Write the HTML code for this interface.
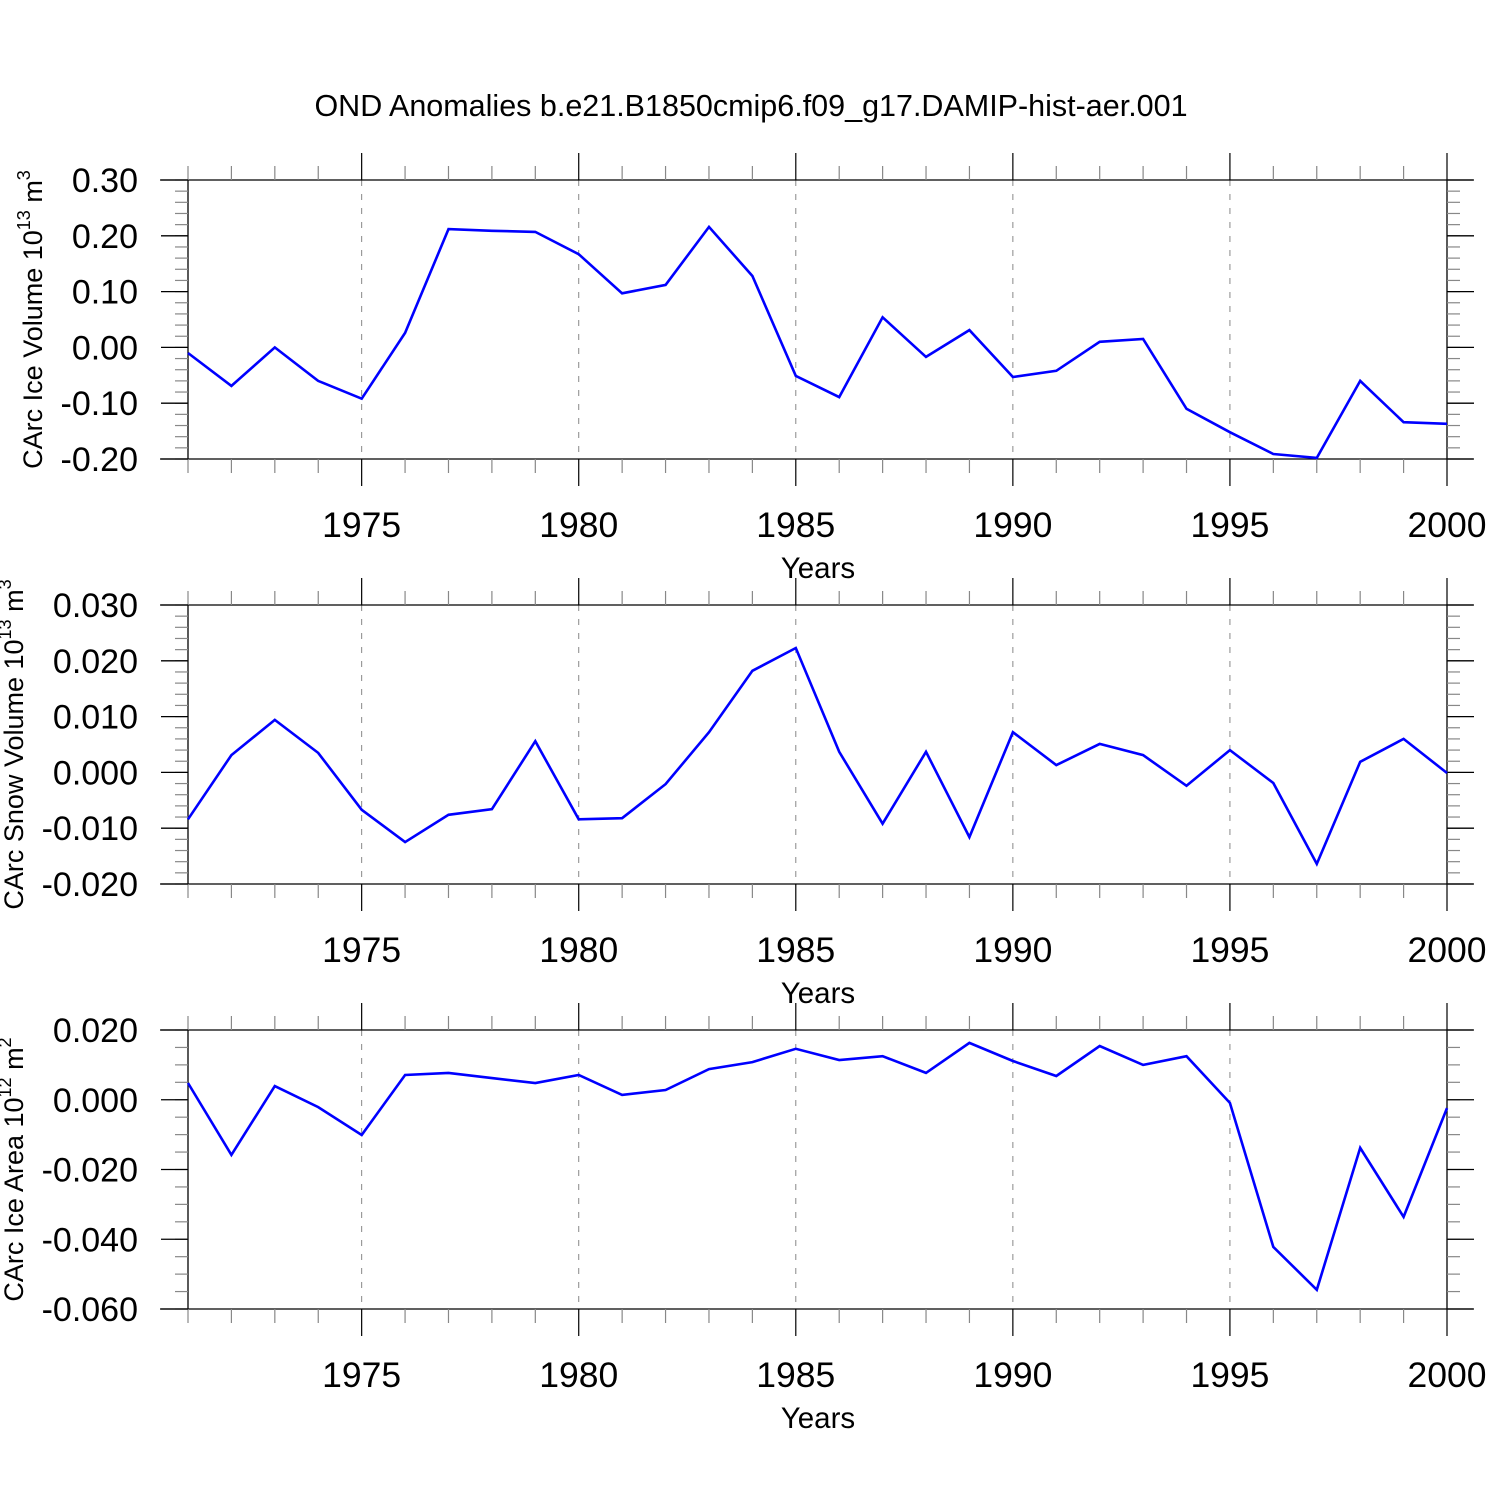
<!DOCTYPE html>
<html><head><meta charset="utf-8"><style>
html,body{margin:0;padding:0;background:#fff;}
svg{display:block;font-family:"Liberation Sans",Arial,sans-serif;}
</style></head><body>
<svg id="chart" width="1500" height="1500" viewBox="0 0 1500 1500" xmlns="http://www.w3.org/2000/svg">
<rect width="1500" height="1500" fill="#fff"/>
<text x="751" y="116" font-size="30.5" text-anchor="middle">OND Anomalies b.e21.B1850cmip6.f09_g17.DAMIP-hist-aer.001</text>
</svg>
<script>
const years = [1971,1972,1973,1974,1975,1976,1977,1978,1979,1980,1981,1982,1983,1984,1985,1986,1987,1988,1989,1990,1991,1992,1993,1994,1995,1996,1997,1998,1999,2000];
const iceVolume = [-0.010,-0.069,0.000,-0.060,-0.092,0.026,0.212,0.209,0.207,0.167,0.097,0.112,0.216,0.128,-0.051,-0.089,0.054,-0.017,0.031,-0.053,-0.042,0.010,0.015,-0.110,-0.152,-0.191,-0.198,-0.060,-0.134,-0.137];
const snowVolume = [-0.0084,0.0031,0.0094,0.0035,-0.0067,-0.0125,-0.0076,-0.0066,0.0056,-0.0084,-0.0082,-0.0021,0.0072,0.0182,0.0223,0.0037,-0.0092,0.0037,-0.0116,0.0072,0.0013,0.0051,0.0031,-0.0024,0.0040,-0.0019,-0.0164,0.0019,0.0060,-0.0001];
const iceArea = [0.0048,-0.0158,0.0039,-0.0021,-0.0101,0.0071,0.0077,0.0062,0.0048,0.0071,0.0014,0.0028,0.0088,0.0108,0.0146,0.0114,0.0125,0.0077,0.0163,0.0111,0.0068,0.0154,0.0100,0.0125,-0.0009,-0.0422,-0.0545,-0.0138,-0.0336,-0.0024];
const xTickLabels = [1975,1980,1985,1990,1995,2000];
const yTicks1 = [0.30,0.20,0.10,0.00,-0.10,-0.20];
const yTicks2 = [0.030,0.020,0.010,0.000,-0.010,-0.020];
const yTicks3 = [0.020,0.000,-0.020,-0.040,-0.060];

const NS='http://www.w3.org/2000/svg';
const svg=document.getElementById('chart');
function el(tag,attrs,parent){const e=document.createElementNS(NS,tag);for(const k in attrs)e.setAttribute(k,attrs[k]);(parent||svg).appendChild(e);return e;}
const X0=188,X1=1447;
function xs(y){return X0+(y-1971)*(X1-X0)/29;}

function panel(id,top,ymax,ymin,ticks,dec,minorStep,data,titleMain,exp,unit,titleX){
  const bot=top+279;
  const g=el('g',{});
  
  
  const ys=v=>top+(ymax-v)*(bot-top)/(ymax-ymin);
  for(const yr of [1975,1980,1985,1990,1995]){
    const l=el('line',{x1:xs(yr),x2:xs(yr),y1:top,y2:bot,stroke:'#888','stroke-width':1,'stroke-dasharray':'6,8'},g);
    
    
  }
  el('line',{x1:160,x2:1473,y1:top,y2:top,stroke:'#000','stroke-width':1.3},g);
  el('line',{x1:160,x2:1473,y1:bot,y2:bot,stroke:'#000','stroke-width':1.3},g);
  el('line',{x1:X0,x2:X0,y1:top,y2:bot,stroke:'#000','stroke-width':1.3},g);
  el('line',{x1:X1,x2:X1,y1:top,y2:bot,stroke:'#000','stroke-width':1.3},g);
  for(let yr=1971;yr<=2000;yr++){
    const major=yr%5===0, x=xs(yr), L=major?27:14;
    const c=major?'#000':'#888';
    el('line',{x1:x,x2:x,y1:top,y2:top-L,stroke:c,'stroke-width':1.2},g);
    el('line',{x1:x,x2:x,y1:bot,y2:bot+L,stroke:c,'stroke-width':1.2},g);
  }
  xTickLabels.forEach(yr=>{
    const t=el('text',{x:xs(yr),y:bot+78,'font-size':35.5,'text-anchor':'middle'},g);
    
    
    t.textContent=yr;
  });
  const xt=el('text',{x:818,y:bot+119,'font-size':29.5,'text-anchor':'middle'},g);
  
  
  xt.textContent='Years';
  const n=Math.round((ymax-ymin)/minorStep);
  for(let i=0;i<=n;i++){
    const v=ymax-i*minorStep,y=ys(v);
    el('line',{x1:X0,x2:X0-13,y1:y,y2:y,stroke:'#888','stroke-width':1.2},g);
    el('line',{x1:X1,x2:X1+13,y1:y,y2:y,stroke:'#888','stroke-width':1.2},g);
  }
  ticks.forEach(v=>{
    const y=ys(v);
    el('line',{x1:X0,x2:X0-27,y1:y,y2:y,stroke:'#000','stroke-width':1.3},g);
    el('line',{x1:X1,x2:X1+27,y1:y,y2:y,stroke:'#000','stroke-width':1.3},g);
    const t=el('text',{x:138,y:y+12,'font-size':34,'text-anchor':'end'},g);
    
    
    t.textContent=v.toFixed(dec);
  });
  const yc=(top+bot)/2;
  const yt=el('text',{x:0,y:0,'font-size':27,'text-anchor':'middle',transform:`translate(${titleX},${yc}) rotate(-90)`},g);
  
  
  yt.innerHTML=titleMain+' 10<tspan dy="-12" font-size="18">'+exp+'</tspan><tspan dy="12"> m</tspan><tspan dy="-12" font-size="18">'+unit+'</tspan>';
  const pts=data.map((v,i)=>xs(years[i]).toFixed(1)+','+ys(v).toFixed(1)).join(' ');
  const pl=el('polyline',{points:pts,fill:'none',stroke:'#0000ff','stroke-width':2.6,'stroke-linejoin':'miter'},g);
  
  
}
panel('ice-volume',180,0.30,-0.20,yTicks1,2,0.02,iceVolume,'CArc Ice Volume','13','3',42);
panel('snow-volume',605,0.030,-0.020,yTicks2,3,0.002,snowVolume,'CArc Snow Volume','13','3',23);
panel('ice-area',1030,0.020,-0.060,yTicks3,3,0.005,iceArea,'CArc Ice Area','12','2',23);
</script>
</body></html>
